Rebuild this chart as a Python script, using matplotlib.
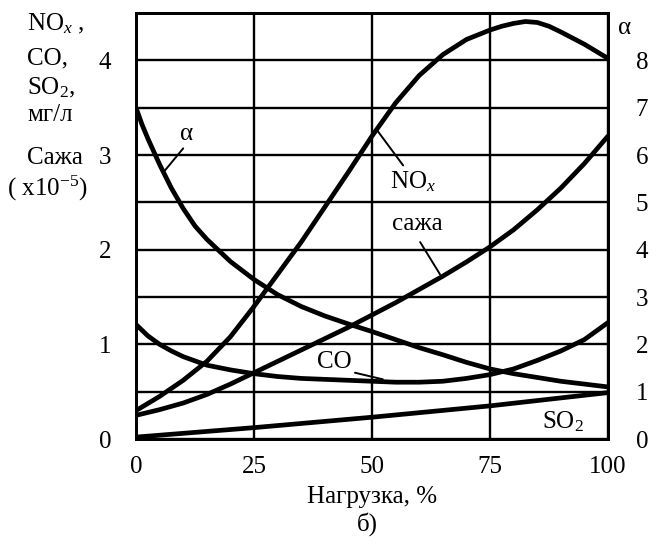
import matplotlib
matplotlib.use("Agg")
import matplotlib.pyplot as plt

plt.rcParams['font.family'] = ['Liberation Serif', 'DejaVu Serif']
plt.rcParams['mathtext.fontset'] = 'custom'
plt.rcParams['mathtext.rm'] = 'Liberation Serif'
plt.rcParams['mathtext.it'] = 'Liberation Serif:italic'

# ---- data ----
load = [0, 5, 10, 15, 20, 25, 30, 35, 40, 45, 50, 55, 60, 65, 70, 75, 80, 85, 90, 95, 100]
alpha_load = [0, 1.25, 2.5, 5, 7.5, 10, 12.5, 15, 20, 25, 30, 35, 40, 45, 50, 55, 60, 65, 70,
              75, 80, 85, 90, 95, 100]
alpha = [7.0, 6.65, 6.35, 5.8, 5.3, 4.87, 4.5, 4.22, 3.75, 3.37, 3.05, 2.8, 2.6, 2.43, 2.27,
         2.1, 1.93, 1.78, 1.62, 1.48, 1.38, 1.3, 1.22, 1.16, 1.1]
nox_load = [0, 5, 10, 15, 20, 25, 30, 35, 40, 45, 50, 55, 60, 65, 70, 75, 77.5, 80, 82.5, 85,
            87.5, 90, 95, 100]
nox = [0.3, 0.45, 0.62, 0.82, 1.08, 1.4, 1.74, 2.08, 2.45, 2.82, 3.2, 3.55, 3.84, 4.06, 4.22,
       4.32, 4.36, 4.39, 4.41, 4.4, 4.36, 4.3, 4.17, 4.02]
soot = [0.25, 0.31, 0.38, 0.47, 0.58, 0.7, 0.82, 0.94, 1.06, 1.18, 1.31, 1.44, 1.58, 1.72,
        1.87, 2.03, 2.21, 2.42, 2.65, 2.91, 3.2]
co_load = [0, 2.5, 5, 7.5, 10, 15, 20, 25, 30, 35, 40, 45, 50, 55, 60, 65, 70, 75, 80, 85, 90,
           95, 100]
co = [1.21, 1.09, 1.0, 0.93, 0.87, 0.78, 0.73, 0.69, 0.66, 0.64, 0.63, 0.62, 0.61, 0.6, 0.6,
      0.61, 0.64, 0.68, 0.74, 0.83, 0.93, 1.05, 1.23]
so2_load = [0, 25, 50, 75, 100]
so2 = [0.02, 0.12, 0.23, 0.35, 0.49]

x_ticks = [0, 25, 50, 75, 100]
left_ticks = [0, 1, 2, 3, 4]
right_ticks = [0, 1, 2, 3, 4, 5, 6, 7, 8]

W, H = 656, 550
fig = plt.figure(figsize=(W / 100, H / 100), dpi=100)
ax = fig.add_axes([136 / W, 1 - 439 / H, (608 - 136) / W, (439 - 13) / H])
ax2 = ax.twinx()

FS = 18
LW = 3.4
GW = 1.7

ax.set_xlim(0, 100)
ax.set_ylim(0, 4.5)
ax2.set_ylim(0, 9)

ax.set_xticks(x_ticks)
ax.set_yticks(left_ticks)
ax2.set_yticks(right_ticks)
ax.tick_params(axis='both', length=0, labelsize=FS)
ax.tick_params(axis='x', pad=12)
ax.tick_params(axis='y', pad=18)
ax2.tick_params(axis='y', length=0, labelsize=FS, pad=20)

ax.grid(axis='x', color='black', lw=GW)
ax2.grid(axis='y', color='black', lw=GW)
for a in (ax, ax2):
    for s in a.spines.values():
        s.set_linewidth(GW + 0.3)
    a.set_axisbelow(True)

kw = dict(color='black', lw=LW, solid_capstyle='round', solid_joinstyle='round')
ax.plot(nox_load, nox, **kw)
ax.plot(load, soot, **kw)
ax.plot(co_load, co, **kw)
ax.plot(so2_load, so2, **kw)
ax2.plot(alpha_load, alpha, **kw)

lead = dict(arrowstyle='-', color='black', lw=1.4, shrinkA=0, shrinkB=0)
ax2.annotate('', xy=(6.1, 5.67), xytext=(10.0, 6.14), arrowprops=lead)
ax2.text(10.8, 6.45, 'α', fontsize=FS, ha='center', va='center')
ax.annotate('', xy=(51.1, 3.26), xytext=(56.6, 2.89), arrowprops=lead)
ax.text(58.7, 2.72, 'NO$_{\\mathit{x}}$', fontsize=FS, ha='center', va='center')
ax.annotate('', xy=(64.4, 1.74), xytext=(60.2, 2.08), arrowprops=lead)
ax.text(59.5, 2.27, 'сажа', fontsize=FS, ha='center', va='center')
ax.annotate('', xy=(52.3, 0.63), xytext=(46.4, 0.70), arrowprops=lead)
ax.text(42, 0.81, 'CO', fontsize=FS, ha='center', va='center')
ax.text(90.5, 0.18, 'SO$_2$', fontsize=FS, ha='center', va='center')

ax.set_xlabel('Нагрузка, %', fontsize=FS, labelpad=6)
fig.text(367 / W, 1 - 524 / H, 'б)', fontsize=FS, ha='center', va='center')

# left axis title block
lines = [('NO$_{\\mathit{x}}$ ,', 27, 24), ('CO,', 27, 58), ('SO$_2$,', 27, 88),
         ('мг/л', 27, 115), ('Сажа', 27, 158), ('( x10$^{-5}$)', 7, 188)]
for t, px, py in lines:
    fig.text(px / W, 1 - py / H, t, fontsize=FS, ha='left', va='center')
fig.text(625 / W, 1 - 28 / H, 'α', fontsize=FS, ha='center', va='center')

fig.savefig('out.png', dpi=100)
